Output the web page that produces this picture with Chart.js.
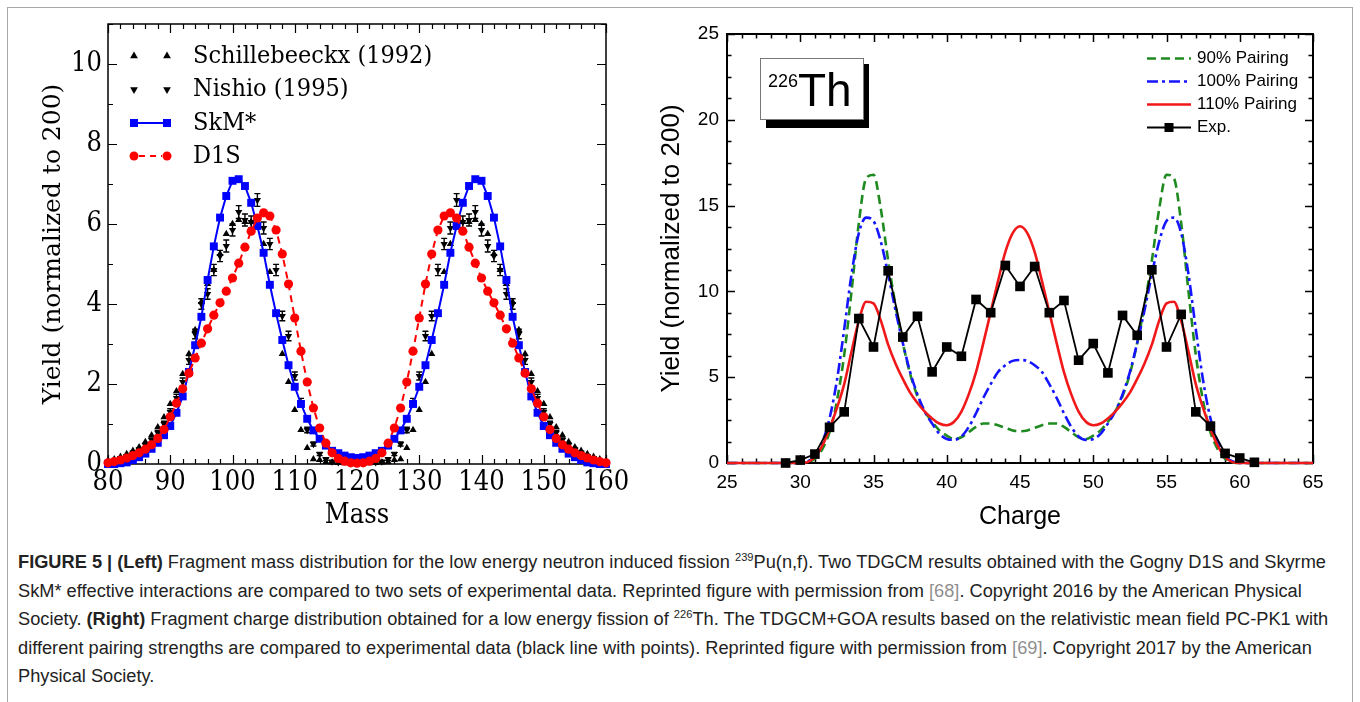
<!DOCTYPE html>
<html><head><meta charset="utf-8">
<script src="https://cdn.jsdelivr.net/npm/chart.js@4.4.1/dist/chart.umd.min.js"></script>
<style>
html,body{margin:0;padding:0;background:#fff;width:1360px;height:702px;overflow:hidden;}
#frame{position:absolute;left:7px;top:7px;width:1346px;height:720px;border:1.5px solid #a8a8a8;box-sizing:border-box;}
#c1{position:absolute;left:0;top:0;}
#c2{position:absolute;left:650px;top:0;}
#cap{position:absolute;left:18px;top:548px;font-family:"Liberation Sans",Arial,sans-serif;font-size:18px;color:#222;}
.ln{height:28.6px;line-height:28.6px;white-space:nowrap;}
.ln span.in{display:inline-block;transform-origin:0 50%;}
.ref{color:#8f8f8f}
sup{font-size:11px;line-height:0;vertical-align:super;}
</style></head>
<body>
<div id="frame"></div>
<canvas id="c1" width="660" height="540" style="width:660px;height:540px"></canvas>
<canvas id="c2" width="710" height="540" style="width:710px;height:540px"></canvas>
<div id="cap">
<div class="ln"><span class="in"><b>FIGURE 5 | (Left)</b> Fragment mass distribution for the low energy neutron induced fission <sup>239</sup>Pu(n,f). Two TDGCM results obtained with the Gogny D1S and Skyrme</span></div>
<div class="ln"><span class="in">SkM* effective interactions are compared to two sets of experimental data. Reprinted figure with permission from <span class="ref">[68]</span>. Copyright 2016 by the American Physical</span></div>
<div class="ln"><span class="in">Society. <b>(Right)</b> Fragment charge distribution obtained for a low energy fission of <sup>226</sup>Th. The TDGCM+GOA results based on the relativistic mean field PC-PK1 with</span></div>
<div class="ln"><span class="in">different pairing strengths are compared to experimental data (black line with points). Reprinted figure with permission from <span class="ref">[69]</span>. Copyright 2017 by the American</span></div>
<div class="ln"><span class="in">Physical Society.</span></div>
</div>
<script>
// ---------------- LEFT PANEL DATA ----------------
const massValues = [80,81,82,83,84,85,86,87,88,89,90,91,92,93,94,95,96,97,98,99,100,101,102,103,104,105,106,107,108,109,110,111,112,113,114,115,116,117,118,119,120,121,122,123,124,125,126,127,128,129,130,131,132,133,134,135,136,137,138,139,140,141,142,143,144,145,146,147,148,149,150,151,152,153,154,155,156,157,158,159,160];
const skmValues = [0.0,0.0,0.02,0.04,0.1,0.17,0.26,0.38,0.53,0.72,0.95,1.28,1.69,2.3,2.97,3.68,4.6,5.44,6.16,6.7,7.08,7.12,6.95,6.53,5.95,5.28,4.48,3.77,3.1,2.47,1.93,1.5,1.13,0.84,0.63,0.46,0.33,0.27,0.21,0.17,0.15,
  0.17,0.21,0.27,0.33,0.46,0.63,0.84,1.13,1.5,1.93,2.47,3.1,3.77,4.48,5.28,5.95,6.53,6.95,7.12,7.08,6.7,6.16,5.44,4.6,3.68,2.97,2.3,1.69,1.28,0.95,0.72,0.53,0.38,0.26,0.17,0.1,0.04,0.02,0.0,0.0];
const d1sValues = [0.03,0.06,0.1,0.15,0.21,0.28,0.37,0.48,0.64,0.86,1.18,1.52,1.88,2.27,2.65,3.02,3.38,3.72,4.03,4.32,4.65,5.02,5.42,5.82,6.15,6.28,6.2,5.85,5.25,4.5,3.65,2.82,2.05,1.4,0.9,0.52,0.28,0.14,0.07,0.03,0.02,
  0.03,0.07,0.14,0.28,0.52,0.9,1.4,2.05,2.82,3.65,4.5,5.25,5.85,6.2,6.28,6.15,5.82,5.42,5.02,4.65,4.32,4.03,3.72,3.38,3.02,2.65,2.27,1.88,1.52,1.18,0.86,0.64,0.48,0.37,0.28,0.21,0.15,0.1,0.06,0.03];
const schilValues = [0.08,0.12,0.18,0.25,0.33,0.42,0.55,0.72,0.92,1.17,1.5,1.82,2.25,2.75,3.35,4.05,4.5,4.85,5.25,5.75,6.0,6.1,6.05,6.05,5.95,5.5,4.8,3.75,2.75,2.05,1.35,0.85,0.4,0.12,0.1,0.05,0.04,0.03,0.02,0.02,0.02,
  0.02,0.02,0.03,0.04,0.05,0.1,0.12,0.4,0.85,1.35,2.05,2.75,3.75,4.8,5.5,5.95,6.05,6.05,6.1,6.0,5.75,5.25,4.85,4.5,4.05,3.35,2.75,2.25,1.82,1.5,1.17,0.92,0.72,0.55,0.42,0.33,0.25,0.18,0.12,0.08];
const nishioMass = [82,83,84,85,86,87,88,89,90,91,92,93,94,95,96,97,98,99,100,101,102,103,104,105,106,107,108,109,110,111,112,113,114,115,116,117,
  123,124,125,126,127,128,129,130,131,132,133,134,135,136,137,138,139,140,141,142,143,144,145,146,147,148,149,150,151,152,153,154,155,156,157,158];
const nishioValues = [0.15,0.2,0.28,0.36,0.47,0.6,0.78,1.0,1.3,1.65,2.05,2.6,3.25,4.0,4.25,4.85,5.2,5.45,5.85,6.3,6.1,6.05,6.6,5.9,5.5,4.85,3.7,3.2,2.2,1.55,0.85,0.5,0.25,0.12,0.06,0.04,
  0.04,0.06,0.12,0.25,0.5,0.85,1.55,2.2,3.2,3.7,4.85,5.5,5.9,6.6,6.05,6.1,6.3,5.85,5.45,5.2,4.85,4.25,4.0,3.25,2.6,2.05,1.65,1.3,1.0,0.78,0.6,0.47,0.36,0.28,0.2,0.15];
const nishioErr = [0.03,0.03,0.04,0.04,0.05,0.05,0.06,0.07,0.08,0.09,0.1,0.11,0.12,0.13,0.13,0.14,0.14,0.15,0.15,0.16,0.15,0.15,0.16,0.15,0.14,0.14,0.12,0.12,0.1,0.09,0.07,0.05,0.04,0.03,0.02,0.02,
  0.02,0.02,0.03,0.04,0.05,0.07,0.09,0.1,0.12,0.12,0.14,0.14,0.15,0.16,0.15,0.15,0.16,0.15,0.15,0.14,0.14,0.13,0.13,0.12,0.11,0.1,0.09,0.08,0.07,0.06,0.05,0.05,0.04,0.04,0.03,0.03];
const massTicks = [80,90,100,110,120,130,140,150,160];
const leftYTicks = [0,2,4,6,8,10];
const leftLabels = ['Schillebeeckx (1992)','Nishio (1995)','SkM*','D1S'];

// ---------------- RIGHT PANEL DATA ----------------
const chargeExp = [29,30,31,32,33,34,35,36,37,38,39,40,41,42,43,44,45,46,47,48,49,50,51,52,53,54,55,56,57,58,59,60,61];
const expValues = [0.0,0.17,0.52,2.08,2.98,8.42,6.76,11.2,7.34,8.55,5.31,6.76,6.22,9.53,8.76,11.51,10.29,11.45,8.76,9.47,5.99,6.96,5.25,8.6,7.44,11.26,6.76,8.66,2.98,2.15,0.56,0.29,0.04];
const chargeGrid = [25,26,27,28,29,29.5,30,30.5,31,31.5,32,32.5,33,33.5,34,34.5,35,35.5,36,36.5,37,37.5,38,38.5,39,39.5,40,40.5,41,41.5,42,42.5,43,43.5,44,44.5,45,
  45.5,46,46.5,47,47.5,48,48.5,49,49.5,50,50.5,51,51.5,52,52.5,53,53.5,54,54.5,55,55.5,56,56.5,57,57.5,58,58.5,59,59.5,60,60.5,61,62,63,64,65];
const pair90 = [0,0,0,0,0,0,0,0.05,0.25,0.8,1.8,3.6,6.3,10.0,14.0,16.6,16.8,14.8,11.8,9.2,7.0,5.2,3.9,3.0,2.4,1.9,1.6,1.4,1.5,1.8,2.1,2.3,2.3,2.2,2.05,1.9,1.85,
  1.9,2.05,2.2,2.3,2.3,2.1,1.8,1.5,1.4,1.6,1.9,2.4,3.0,3.9,5.2,7.0,9.2,11.8,14.8,16.8,16.6,14.0,10.0,6.3,3.6,1.8,0.8,0.25,0.05,0,0,0,0,0,0,0];
const pair100 = [0,0,0,0,0,0,0,0.1,0.4,1.2,2.6,4.8,7.8,11.0,13.4,14.3,14.1,12.9,11.0,8.9,7.0,5.3,4.0,3.0,2.3,1.7,1.4,1.35,1.55,2.1,2.9,3.8,4.6,5.3,5.7,5.95,6.0,
  5.95,5.7,5.3,4.6,3.8,2.9,2.1,1.55,1.35,1.4,1.7,2.3,3.0,4.0,5.3,7.0,8.9,11.0,12.9,14.1,14.3,13.4,11.0,7.8,4.8,2.6,1.2,0.4,0.1,0,0,0,0,0,0,0];
const pair110 = [0,0,0,0,0,0,0,0.05,0.35,1.0,2.0,3.2,4.6,6.5,8.3,9.4,9.3,8.3,6.9,5.8,4.9,4.1,3.5,3.0,2.6,2.3,2.2,2.4,3.0,4.0,5.3,7.0,8.8,10.6,12.3,13.4,13.8,
  13.4,12.3,10.6,8.8,7.0,5.3,4.0,3.0,2.4,2.2,2.3,2.6,3.0,3.5,4.1,4.9,5.8,6.9,8.3,9.3,9.4,8.3,6.5,4.6,3.2,2.0,1.0,0.35,0.05,0,0,0,0,0,0,0];
const chargeTicks = [25,30,35,40,45,50,55,60,65];
const rightYTicks = [0,5,10,15,20,25];
const rightLabels = ['90% Pairing','100% Pairing','110% Pairing','Exp.'];

// ---------------- helpers ----------------
const SERIF_C = '"DejaVu Serif Condensed","DejaVu Serif",serif';
const SERIF = '"DejaVu Serif",serif';
const SANS = '"Liberation Sans",Arial,sans-serif';
const pts = (xs, ys) => xs.map((x, i) => ({x: x, y: ys[i]}));

const frameTicks = {
  id: 'frameTicks',
  beforeDatasetsDraw(chart, args, o) {
    const {ctx, chartArea: a, scales: {x, y}} = chart;
    ctx.save();
    ctx.strokeStyle = '#000';
    ctx.lineWidth = o.lw;
    ctx.strokeRect(a.left, a.top, a.right - a.left, a.bottom - a.top);
    ctx.lineWidth = o.tw;
    ctx.beginPath();
    const nx = Math.round((x.max - x.min) / o.xMinor);
    for (let k = 0; k <= nx; k++) {
      const v = x.min + k * o.xMinor;
      const major = o.xMajor.some(m => Math.abs(m - v) < 1e-6);
      const L = major ? o.majorLen : o.minorLen;
      const px = Math.round(x.getPixelForValue(v)) + 0.5;
      ctx.moveTo(px, a.bottom); ctx.lineTo(px, a.bottom - L);
      ctx.moveTo(px, a.top); ctx.lineTo(px, a.top + L);
    }
    const ny = Math.round((y.max - y.min) / o.yMinor);
    for (let k = 0; k <= ny; k++) {
      const v = y.min + k * o.yMinor;
      const major = o.yMajor.some(m => Math.abs(m - v) < 1e-6);
      const L = major ? o.majorLen : o.minorLen;
      const py = Math.round(y.getPixelForValue(v)) + 0.5;
      ctx.moveTo(a.left, py); ctx.lineTo(a.left + L, py);
      ctx.moveTo(a.right, py); ctx.lineTo(a.right - L, py);
    }
    ctx.stroke();
    ctx.restore();
  }
};

const errorBars = {
  id: 'errorBars',
  afterDatasetDraw(chart, args, o) {
    const ds = chart.data.datasets[args.index];
    if (!ds.errors) return;
    const {ctx, scales: {y}} = chart;
    const meta = args.meta;
    ctx.save();
    ctx.strokeStyle = '#000';
    ctx.lineWidth = 1.4;
    ctx.beginPath();
    meta.data.forEach((el, i) => {
      const v = ds.data[i].y, e = ds.errors[i];
      const y1 = y.getPixelForValue(v + e), y2 = y.getPixelForValue(v - e);
      ctx.moveTo(el.x, y1); ctx.lineTo(el.x, y2);
      ctx.moveTo(el.x - 3, y1); ctx.lineTo(el.x + 3, y1);
      ctx.moveTo(el.x - 3, y2); ctx.lineTo(el.x + 3, y2);
    });
    ctx.stroke();
    ctx.restore();
  }
};

function tri(ctx, cx, cy, r, down) {
  ctx.beginPath();
  const s = down ? -1 : 1;
  ctx.moveTo(cx, cy - s * r);
  ctx.lineTo(cx + r * 0.866, cy + s * r / 2);
  ctx.lineTo(cx - r * 0.866, cy + s * r / 2);
  ctx.closePath();
  ctx.fill();
}

const leftLegend = {
  id: 'leftLegend',
  afterDraw(chart) {
    const ctx = chart.ctx;
    const rows = [56, 89.5, 123, 156];
    const x1 = 134, x2 = 167, tx = 193;
    ctx.save();
    ctx.font = '25px ' + SERIF_C;
    ctx.textBaseline = 'middle';
    ctx.fillStyle = '#000';
    tri(ctx, x1, rows[0], 4.5, false); tri(ctx, x2, rows[0], 4.5, false);
    tri(ctx, x1, rows[1], 4.5, true); tri(ctx, x2, rows[1], 4.5, true);
    ctx.strokeStyle = '#0000ff'; ctx.fillStyle = '#0000ff'; ctx.lineWidth = 2;
    ctx.beginPath(); ctx.moveTo(x1, rows[2]); ctx.lineTo(x2, rows[2]); ctx.stroke();
    ctx.fillRect(x1 - 4, rows[2] - 4, 8, 8); ctx.fillRect(x2 - 4, rows[2] - 4, 8, 8);
    ctx.strokeStyle = '#ff0000'; ctx.fillStyle = '#ff0000';
    ctx.setLineDash([6, 5]);
    ctx.beginPath(); ctx.moveTo(x1 + 5, rows[3]); ctx.lineTo(x2 - 5, rows[3]); ctx.stroke();
    ctx.setLineDash([]);
    ctx.beginPath(); ctx.arc(x1, rows[3], 4.5, 0, Math.PI * 2); ctx.fill();
    ctx.beginPath(); ctx.arc(x2, rows[3], 4.5, 0, Math.PI * 2); ctx.fill();
    ctx.fillStyle = '#000';
    leftLabels.forEach((t, i) => ctx.fillText(t, tx, rows[i]));
    ctx.restore();
  }
};

const rightDecor = {
  id: 'rightDecor',
  afterDraw(chart) {
    const ctx = chart.ctx;
    ctx.save();
    const rows = [58.5, 81.5, 104.5, 127.5];
    const lx1 = 497, lx2 = 541, tx = 547;
    ctx.lineWidth = 2.5;
    ctx.strokeStyle = '#1f8a1f'; ctx.setLineDash([9, 5]);
    ctx.beginPath(); ctx.moveTo(lx1, rows[0]); ctx.lineTo(lx2, rows[0]); ctx.stroke();
    ctx.strokeStyle = '#1515ff'; ctx.setLineDash([11, 4, 3, 4]);
    ctx.beginPath(); ctx.moveTo(lx1, rows[1]); ctx.lineTo(lx2, rows[1]); ctx.stroke();
    ctx.strokeStyle = '#f01818'; ctx.setLineDash([]);
    ctx.beginPath(); ctx.moveTo(lx1, rows[2]); ctx.lineTo(lx2, rows[2]); ctx.stroke();
    ctx.strokeStyle = '#000'; ctx.lineWidth = 2;
    ctx.beginPath(); ctx.moveTo(lx1, rows[3]); ctx.lineTo(lx2, rows[3]); ctx.stroke();
    ctx.fillStyle = '#000';
    ctx.fillRect((lx1 + lx2) / 2 - 4.5, rows[3] - 4.5, 9, 9);
    ctx.font = '17px ' + SANS;
    ctx.textBaseline = 'middle';
    rightLabels.forEach((t, i) => ctx.fillText(t, tx, rows[i]));
    // 226Th box with shadow
    ctx.fillStyle = '#000';
    ctx.fillRect(116, 64, 103, 64);
    ctx.fillStyle = '#fff';
    ctx.fillRect(110, 58, 104, 62);
    ctx.strokeStyle = '#777'; ctx.lineWidth = 1;
    ctx.strokeRect(110.5, 58.5, 103, 61);
    ctx.fillStyle = '#000';
    ctx.textBaseline = 'alphabetic';
    ctx.font = '18px ' + SANS;
    ctx.fillText('226', 118, 87);
    ctx.font = '46px ' + SANS;
    ctx.fillText('Th', 148, 106);
    ctx.restore();
  }
};

// ---------------- LEFT CHART ----------------
new Chart(document.getElementById('c1'), {
  type: 'line',
  data: {
    datasets: [
      {label: leftLabels[3], data: pts(massValues, d1sValues), borderColor: '#ff0000', backgroundColor: '#ff0000',
       borderWidth: 2, borderDash: [7, 5], pointStyle: 'circle', pointRadius: 4.6, pointBorderWidth: 0, order: 1, clip: 8},
      {label: leftLabels[2], data: pts(massValues, skmValues), borderColor: '#0000ff', backgroundColor: '#0000ff',
       borderWidth: 2, pointStyle: 'rect', pointRadius: 5.6, pointBorderWidth: 0, order: 2, clip: 8},
      {label: leftLabels[1], data: pts(nishioMass, nishioValues), errors: nishioErr, showLine: false, borderColor: '#000', backgroundColor: '#000',
       pointStyle: 'triangle', rotation: 180, pointRadius: 4.2, pointBorderWidth: 0, order: 3, clip: 8},
      {label: leftLabels[0], data: pts(massValues, schilValues), showLine: false, borderColor: '#000', backgroundColor: '#000',
       pointStyle: 'triangle', pointRadius: 4.2, pointBorderWidth: 0, order: 4, clip: 8}
    ]
  },
  options: {
    responsive: false, animation: false, devicePixelRatio: 1,
    layout: {padding: {left: 0, top: 24, right: 54, bottom: 0}},
    plugins: {legend: {display: false}, tooltip: {enabled: false},
      frameTicks: {lw: 1.5, tw: 1.2, majorLen: 9, minorLen: 5, xMinor: 2, xMajor: massTicks, yMinor: 1, yMajor: leftYTicks}},
    scales: {
      x: {type: 'linear', min: 80, max: 160,
        afterBuildTicks: s => { s.ticks = massTicks.map(v => ({value: v})); },
        afterFit: s => { s.height = 76; },
        grid: {display: false, drawTicks: false}, border: {display: false},
        ticks: {color: '#000', padding: 3, maxRotation: 0, autoSkip: false, font: {family: SERIF_C, size: 27}},
        title: {display: true, text: 'Mass', color: '#000', font: {family: SERIF_C, size: 27, lineHeight: 1}, padding: {top: 0, bottom: 11}}},
      y: {type: 'linear', min: 0, max: 11,
        afterBuildTicks: s => { s.ticks = leftYTicks.map(v => ({value: v})); },
        afterFit: s => { s.width = 108; },
        grid: {display: false, drawTicks: false}, border: {display: false},
        ticks: {color: '#000', padding: 6, font: {family: SERIF_C, size: 27}},
        title: {display: true, text: 'Yield (normalized to 200)', color: '#000', font: {family: SERIF, size: 25, lineHeight: 1}, padding: {top: 41, bottom: 0}}}
    }
  },
  plugins: [frameTicks, errorBars, leftLegend]
});

// ---------------- RIGHT CHART ----------------
new Chart(document.getElementById('c2'), {
  type: 'line',
  data: {
    datasets: [
      {label: rightLabels[3], data: pts(chargeExp, expValues), borderColor: '#000', backgroundColor: '#000',
       borderWidth: 1.8, pointStyle: 'rect', pointRadius: 6.8, pointBorderWidth: 0, order: 0, clip: false},
      {label: rightLabels[2], data: pts(chargeGrid, pair110), borderColor: '#f01818', borderWidth: 2.6,
       pointRadius: 0, cubicInterpolationMode: 'monotone', order: 1, clip: false},
      {label: rightLabels[1], data: pts(chargeGrid, pair100), borderColor: '#1515ff', borderWidth: 2.6, borderDash: [11, 4, 3, 4],
       pointRadius: 0, cubicInterpolationMode: 'monotone', order: 2, clip: false},
      {label: rightLabels[0], data: pts(chargeGrid, pair90), borderColor: '#1f8a1f', borderWidth: 2.6, borderDash: [9, 5],
       pointRadius: 0, cubicInterpolationMode: 'monotone', order: 3, clip: false}
    ]
  },
  options: {
    responsive: false, animation: false, devicePixelRatio: 1,
    layout: {padding: {left: 0, top: 34, right: 47, bottom: 0}},
    plugins: {legend: {display: false}, tooltip: {enabled: false},
      frameTicks: {lw: 2, tw: 1.5, majorLen: 8, minorLen: 4.5, xMinor: 1, xMajor: chargeTicks, yMinor: 1.25, yMajor: rightYTicks}},
    scales: {
      x: {type: 'linear', min: 25, max: 65,
        afterBuildTicks: s => { s.ticks = chargeTicks.map(v => ({value: v})); },
        afterFit: s => { s.height = 77; },
        grid: {display: false, drawTicks: false}, border: {display: false},
        ticks: {color: '#000', padding: 8, maxRotation: 0, autoSkip: false, font: {family: SANS, size: 19}},
        title: {display: true, text: 'Charge', color: '#000', font: {family: SANS, size: 25, lineHeight: 1}, padding: {top: 0, bottom: 10}}},
      y: {type: 'linear', min: 0, max: 25,
        afterBuildTicks: s => { s.ticks = rightYTicks.map(v => ({value: v})); },
        afterFit: s => { s.width = 77; },
        grid: {display: false, drawTicks: false}, border: {display: false},
        ticks: {color: '#000', padding: 8, font: {family: SANS, size: 19}},
        title: {display: true, text: 'Yield (normalized to 200)', color: '#000', font: {family: SANS, size: 26, lineHeight: 1}, padding: {top: 9, bottom: 0}}}
    }
  },
  plugins: [frameTicks, rightDecor]
});

// ---------------- caption: one common horizontal scale, fitted on the first line ----------------
const capLines = document.querySelectorAll('#cap .in');
const capScale = (1326 - 18) / capLines[0].getBoundingClientRect().width;
capLines.forEach(el => { el.style.transform = 'scaleX(' + capScale + ')'; });
</script>
</body></html>
